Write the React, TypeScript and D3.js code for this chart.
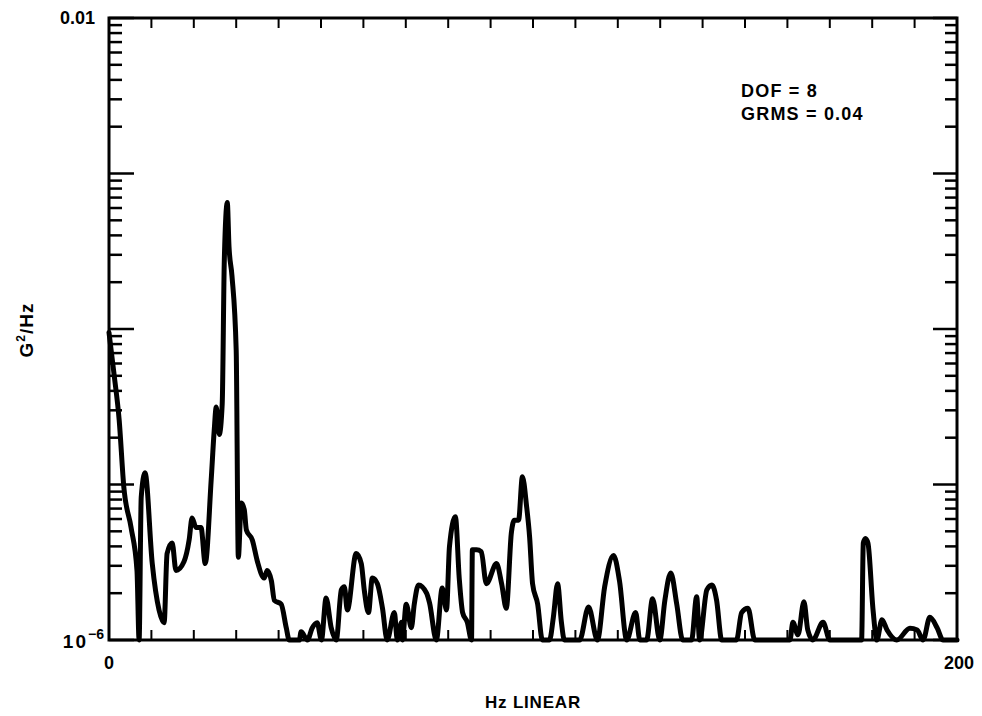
import React from "react";
import * as d3 from "d3";

// [frequency Hz, PSD G^2/Hz]
const spectrum: [number, number][] = [
  [0, 9.5e-5], [1.2, 5.1e-5], [2.4, 2.6e-5], [3.5, 9.6e-6], [5.2, 5.3e-6], [6.6, 2.8e-6],
  [7.1, 1e-6], [7.6, 8.3e-6], [8.5, 1.19e-5], [10.2, 3.1e-6], [11.8, 1.56e-6], [13.0, 1.29e-6],
  [13.7, 3.6e-6], [14.9, 4.2e-6], [15.8, 2.8e-6], [17.7, 3.2e-6], [18.9, 4.4e-6], [19.6, 6.1e-6],
  [20.5, 5.3e-6], [21.7, 5.3e-6], [22.7, 3.1e-6], [24.1, 1.07e-5], [24.8, 2.2e-5], [25.3, 3.15e-5],
  [26.0, 2.1e-5], [26.7, 3.3e-5], [27.2, 2.8e-4], [27.9, 6.5e-4], [28.3, 3.4e-4], [29.0, 2.2e-4],
  [30.0, 7.3e-5], [30.5, 3.4e-6], [31.2, 7.6e-6], [31.9, 6.9e-6], [32.4, 5.1e-6], [33.8, 4.4e-6],
  [35.0, 3.2e-6], [36.6, 2.5e-6], [37.3, 2.8e-6], [38.3, 2.4e-6], [39.0, 1.8e-6], [40.6, 1.7e-6],
  [41.8, 1.2e-6], [42.5, 1e-6], [44.9, 1e-6], [45.3, 1.13e-6], [46.8, 1e-6], [47.9, 1.19e-6],
  [49.1, 1.29e-6], [50.1, 1e-6], [51.2, 1.86e-6], [52.4, 1.2e-6], [53.6, 1e-6], [54.8, 2.1e-6],
  [55.5, 2.2e-6], [56.2, 1.56e-6], [58.3, 3.6e-6], [59.5, 3.1e-6], [60.2, 2.1e-6], [61.2, 1.5e-6],
  [62.1, 2.5e-6], [63.3, 2.3e-6], [64.5, 1.6e-6], [65.6, 1e-6], [67.3, 1.5e-6], [68.0, 1e-6],
  [69.0, 1.3e-6], [69.2, 1e-6], [70.1, 1.7e-6], [71.3, 1.2e-6], [72.0, 1.7e-6], [73.0, 2.26e-6],
  [74.9, 2.0e-6], [75.6, 1.73e-6], [77.2, 1e-6], [78.6, 2.16e-6], [79.6, 1.56e-6], [80.3, 4.0e-6],
  [81.7, 6.2e-6], [82.6, 2.5e-6], [83.4, 1.5e-6], [84.5, 1.3e-6], [85.5, 1e-6], [85.7, 3.8e-6],
  [86.7, 3.8e-6], [87.8, 3.7e-6], [89.0, 2.3e-6], [91.4, 3.1e-6], [92.6, 2.3e-6], [93.7, 1.6e-6],
  [94.9, 4.9e-6], [95.6, 5.9e-6], [96.6, 5.9e-6], [97.5, 1.12e-5], [98.5, 7.2e-6], [99.2, 4.6e-6],
  [99.9, 2.3e-6], [101.1, 1.7e-6], [102.2, 1e-6], [103.9, 1e-6], [104.8, 1.4e-6], [105.8, 2.3e-6],
  [106.7, 1.3e-6], [107.4, 1e-6], [111.0, 1e-6], [113.1, 1.63e-6], [115.2, 1e-6], [116.9, 2.2e-6],
  [119.0, 3.5e-6], [120.4, 2.4e-6], [122.1, 1e-6], [124.2, 1.5e-6], [125.2, 1e-6], [126.8, 1e-6],
  [128.2, 1.84e-6], [129.9, 1e-6], [131.1, 1.8e-6], [132.5, 2.7e-6], [133.9, 1.7e-6], [135.3, 1e-6],
  [137.4, 1e-6], [138.6, 1.9e-6], [139.3, 1e-6], [141.0, 2.1e-6], [142.2, 2.26e-6], [143.3, 1.8e-6],
  [144.5, 1e-6], [148.0, 1e-6], [149.2, 1.5e-6], [150.7, 1.6e-6], [152.3, 1e-6], [160.6, 1e-6],
  [161.3, 1.3e-6], [162.5, 1.08e-6], [163.9, 1.76e-6], [164.8, 1.16e-6], [166.0, 1e-6], [168.4, 1.3e-6],
  [170.0, 1e-6], [177.5, 1e-6], [177.9, 4.2e-6], [178.4, 4.5e-6], [179.0, 4.2e-6], [180.2, 1.56e-6],
  [181.1, 1e-6], [182.3, 1.35e-6], [183.5, 1.16e-6], [185.8, 1e-6], [188.9, 1.19e-6], [190.6, 1.16e-6],
  [192.0, 1e-6], [193.6, 1.4e-6], [195.3, 1.2e-6], [196.7, 1e-6], [200, 1e-6],
];

const xDomain = [0, 200];
const yDomain = [1e-6, 1e-2];
const xTickStep = 10;
const xTickLabels = [{ v: 0, t: "0" }, { v: 200, t: "200" }];
const annotations = ["DOF = 8", "GRMS = 0.04"];
const xTitle = "Hz LINEAR";

const FONT = "'Liberation Sans', Arial, Helvetica, sans-serif";

export default function App() {
  const W = 982, H = 716;
  const m = { left: 109, right: 25, top: 18, bottom: 76 };
  const x = d3.scaleLinear().domain(xDomain).range([m.left, W - m.right]);
  const y = d3.scaleLog().domain(yDomain).range([H - m.bottom, m.top]);
  const x0 = m.left, x1 = W - m.right, y0 = H - m.bottom, y1 = m.top;

  const majors: number[] = [];
  const minors: number[] = [];
  for (let e = -6; e <= -2; e++) {
    majors.push(Math.pow(10, e));
    if (e < -2) for (let k = 2; k <= 9; k++) minors.push(k * Math.pow(10, e));
  }
  const xTicks = d3.range(xDomain[0] + xTickStep, xDomain[1], xTickStep);

  const line = d3
    .line<[number, number]>()
    .x((d) => x(d[0]))
    .y((d) => y(Math.max(d[1], yDomain[0])))
    .curve(d3.curveMonotoneX);

  const sw = 2.5;
  return (
    <svg width={W} height={H} style={{ position: "absolute", left: 0, top: 0, background: "#fff" }}>
      <rect x={0} y={0} width={W} height={H} fill="#fff" />
      {majors.map((v, i) => (
        <g key={"M" + i}>
          <line x1={x0} x2={x0 + 25} y1={y(v)} y2={y(v)} stroke="#000" strokeWidth={sw} />
          <line x1={x1} x2={x1 - 24} y1={y(v)} y2={y(v)} stroke="#000" strokeWidth={sw} />
        </g>
      ))}
      {minors.map((v, i) => (
        <g key={"m" + i}>
          <line x1={x0} x2={x0 + 13} y1={y(v)} y2={y(v)} stroke="#000" strokeWidth={sw} />
          <line x1={x1} x2={x1 - 12} y1={y(v)} y2={y(v)} stroke="#000" strokeWidth={sw} />
        </g>
      ))}
      {xTicks.map((v, i) => (
        <g key={"x" + i}>
          <line x1={x(v)} x2={x(v)} y1={y0} y2={y0 - 10} stroke="#000" strokeWidth={2} />
          <line x1={x(v)} x2={x(v)} y1={y1} y2={y1 + 10} stroke="#000" strokeWidth={2} />
        </g>
      ))}
      <rect x={x0} y={y1} width={x1 - x0} height={y0 - y1} fill="none" stroke="#000" strokeWidth={3} />
      <path d={line(spectrum) || ""} fill="none" stroke="#000" strokeWidth={5} strokeLinejoin="round" strokeLinecap="round" />

      <text x={x0 - 14} y={y(1e-2) + 6} textAnchor="end" fontFamily={FONT} fontWeight="bold" fontSize={18}>0.01</text>
      <text x={x0 - 21} y={y(1e-6) + 8} textAnchor="end" fontFamily={FONT} fontWeight="bold" fontSize={19} letterSpacing={2}>10</text>
      <text x={x0 - 21} y={y(1e-6) - 1} textAnchor="start" fontFamily={FONT} fontWeight="bold" fontSize={14}>−6</text>

      {xTickLabels.map((d, i) => (
        <text key={"xl" + i} x={x(d.v) + (i === 0 ? 0 : 2)} y={y0 + 29} textAnchor="middle" fontFamily={FONT} fontWeight="bold" fontSize={18}>{d.t}</text>
      ))}

      <text x={533} y={y0 + 68} textAnchor="middle" fontFamily={FONT} fontWeight="bold" fontSize={17} letterSpacing={0.8}>{xTitle}</text>

      <text transform={`translate(33, ${330}) rotate(-90)`} textAnchor="middle" fontFamily={FONT} fontWeight="bold" fontSize={19} letterSpacing={1}>
        G<tspan fontSize={12} dy={-8}>2</tspan><tspan dy={8}>/Hz</tspan>
      </text>

      {annotations.map((t, i) => (
        <text key={"a" + i} x={741} y={97 + i * 23} fontFamily={FONT} fontWeight="bold" fontSize={18} letterSpacing={1.2}>{t}</text>
      ))}
    </svg>
  );
}
